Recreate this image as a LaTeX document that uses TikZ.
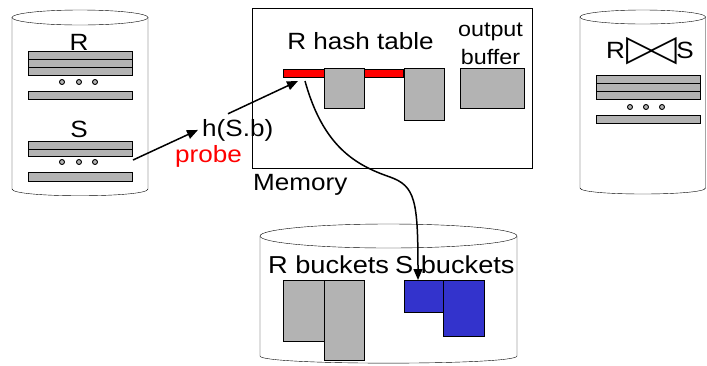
\documentclass[tikz,border=0pt]{standalone}
\usepackage{fontspec}
\setmainfont{Liberation Sans}[FakeStretch=1.11]
\newfontfamily\symfont{DejaVu Sans}
\usetikzlibrary{arrows.meta}
\definecolor{pagegray}{RGB}{179,179,179}
\definecolor{bucketblue}{RGB}{51,51,204}

\begin{document}
\begin{tikzpicture}[x=1pt,y=-1pt,
    strip/.style={draw,fill=pagegray,line width=1pt,inner sep=0pt,anchor=north west,minimum width=104pt,minimum height=8pt},
    page/.style={draw,fill=pagegray,line width=1pt,inner sep=0pt,anchor=north west},
    bucket/.style={draw,fill=bucketblue,line width=1pt,inner sep=0pt,anchor=north west},
    dot/.style={draw,fill=pagegray,line width=0.9pt},
    lbl/.style={inner sep=0pt,anchor=base,font=\fontsize{23.5}{26}\selectfont},
    link/.style={line width=1.5pt,-{Triangle[length=11pt,width=9pt]}}]
  \useasboundingbox (0,0) rectangle (707,365);

  % disk with R and S
  \draw[fill=white] (12,17.5) -- (12,189) .. controls (12,198) and (148,198) .. (148,189) -- (148,17.5);
  \draw[fill=white] (80,17.5) ellipse [x radius=68, y radius=7.5];
  \node[lbl] (rname) at (79,50) {R};
  \node[strip] (r1) at (28,51) {};
  \node[strip] (r2) at (28,59) {};
  \node[strip] (r3) at (28,67) {};
  \foreach \x in {62,79,95} \draw[dot] (\x,82) circle [radius=2.5pt];
  \node[strip] (r4) at (28,91) {};
  \node[lbl] (sname) at (79,137) {S};
  \node[strip,minimum height=7.5pt] (s1) at (28,141) {};
  \node[strip,minimum height=7.5pt] (s2) at (28,148.5) {};
  \foreach \x in {62,79,95} \draw[dot] (\x,162) circle [radius=2.5pt];
  \node[strip,minimum height=9pt] (s3) at (28,172) {};

  % memory
  \node[draw,line width=1pt,inner sep=0pt,anchor=north west,minimum width=280pt,minimum height=160pt] (mem) at (252,8) {};
  \node[lbl,anchor=base west] (memlbl) at (253,190.5) {Memory};
  \node[lbl] (htlbl) at (360.5,49) {R hash table};
  \node[lbl,font=\fontsize{21}{28}\selectfont] (oblbl1) at (490.5,36.5) {output};
  \node[lbl,font=\fontsize{21}{28}\selectfont] (oblbl2) at (490.5,64.5) {buffer};
  \node[draw,fill=red,line width=1pt,inner sep=0pt,anchor=north west,minimum width=120pt,minimum height=8pt] (bar) at (283,69) {};
  \node[page,minimum width=40pt,minimum height=40pt] (hp1) at (324,68) {};
  \node[page,minimum width=40pt,minimum height=52pt] (hp2) at (404,68) {};
  \node[page,minimum width=64pt,minimum height=40pt] (obuf) at (460,68) {};

  % probing
  \node[lbl,anchor=base west] (hsb) at (202,136) {h(S.b)};
  \node[lbl,anchor=base west,text=red] (probe) at (175,162) {probe};
  \draw[link] ([yshift=-3pt]s2.south east) -- ([xshift=-4pt]hsb.west);
  \draw[link] ([xshift=26pt,yshift=5pt]hsb.north west) -- ([xshift=15pt,yshift=-3pt]bar.south west);

  % result disk
  \draw[fill=white] (580,17) -- (580,188) .. controls (580,196) and (705.5,196) .. (705.5,188) -- (705.5,17);
  \draw[fill=white] (642.75,17) ellipse [x radius=62.75, y radius=7];
  \node[lbl,anchor=base west] (rjs) at (606,58.3) {R\kern1pt\raisebox{-2.5pt}{\symfont\fontsize{36}{36}\selectfont ▷\kern-4pt◁}\kern-1pt S};
  \node[strip] (o1) at (596,75) {};
  \node[strip] (o2) at (596,83) {};
  \node[strip] (o3) at (596,91) {};
  \foreach \x in {630,646,662} \draw[dot] (\x,107) circle [radius=2.5pt];
  \node[strip] (o4) at (596,115) {};

  % buckets disk
  \draw[fill=white] (260,236) -- (260,356) .. controls (260,365.5) and (517,365.5) .. (517,356) -- (517,236);
  \draw[fill=white] (388.5,236) ellipse [x radius=128.5, y radius=12];
  \node[lbl,anchor=base west,font=\fontsize{24.5}{28}\selectfont] (rblbl) at (268,273) {R buckets};
  \node[lbl,anchor=base west,font=\fontsize{24.5}{28}\selectfont] (sblbl) at (395,273) {S buckets};
  \node[page,minimum width=41pt,minimum height=61pt] (rb1) at (283,280) {};
  \node[page,minimum width=40pt,minimum height=80pt] (rb2) at (324,280) {};
  \node[bucket,minimum width=39pt,minimum height=32pt] (sb1) at (404,280) {};
  \node[bucket,minimum width=41pt,minimum height=56pt] (sb2) at (443,280) {};

  \draw[link] ([xshift=22pt,yshift=-3pt]bar.south west) .. controls +(18,65) and +(-35,-12) .. (390,177)
    .. controls +(25,9) and +(0,-80) .. ([xshift=-6pt]sb1.north);
\end{tikzpicture}
\end{document}
